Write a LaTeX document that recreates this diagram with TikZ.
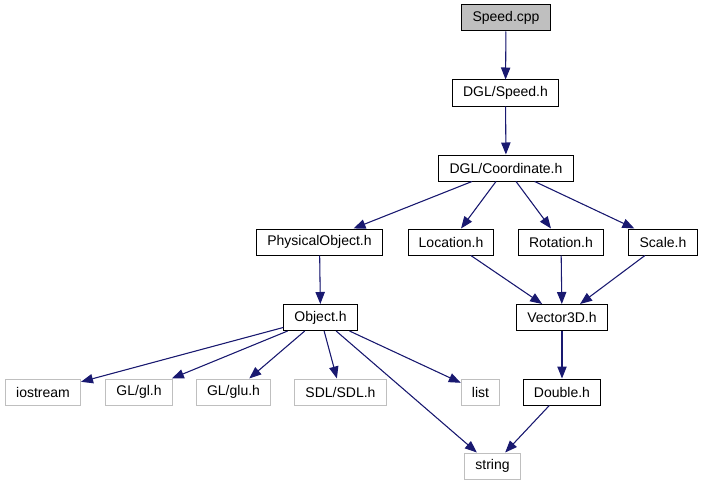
\documentclass[tikz,border=0pt]{standalone}
\usepackage{fontspec}
\setmainfont{Liberation Sans}
\usetikzlibrary{shapes,arrows.meta,positioning}
\definecolor{edgeblue}{RGB}{25,25,112}
\definecolor{sysgray}{RGB}{191,191,191}

\begin{document}
\begin{tikzpicture}[
    x=0.75pt, y=-0.75pt,
    font=\fontsize{10.5}{12}\selectfont,
    file/.style={rectangle, draw=black, line width=0.75pt, minimum height=19.5pt, inner xsep=8pt, inner ysep=0pt},
    sysfile/.style={file, draw=sysgray},
    dep/.style={-{Triangle[length=9pt,width=7pt]}, draw=edgeblue, fill=edgeblue, line width=0.8pt}
]
\useasboundingbox (0,0) rectangle (703,485);

\node[file, fill=sysgray] (speedcpp) at (506,18) {Speed.cpp};
\node[file] (speedh) at (505.5,93) {DGL/Speed.h};
\node[file] (coord) at (506,168) {DGL/Coordinate.h};
\node[file] (phys) at (319.5,242) {PhysicalObject.h};
\node[file] (loc) at (451,242) {Location.h};
\node[file] (rot) at (561,242) {Rotation.h};
\node[file] (scale) at (663,242) {Scale.h};
\node[file] (object) at (320.5,317.5) {Object.h};
\node[file] (vec) at (562,317.5) {Vector3D.h};
\node[sysfile] (iostream) at (43,392) {iostream};
\node[sysfile] (gl) at (139,392) {GL/gl.h};
\node[sysfile] (glu) at (233.5,392) {GL/glu.h};
\node[sysfile] (sdl) at (340.5,392) {SDL/SDL.h};
\node[sysfile] (list) at (480.5,392) {list};
\node[file] (double) at (562,392) {Double.h};
\node[sysfile] (string) at (492.5,466) {string};

\draw[dep] (speedcpp) -- (speedh);
\draw[dep] (speedh) -- (coord);
\draw[dep] (coord) -- (phys);
\draw[dep] (coord) -- (loc);
\draw[dep] (coord) -- (rot);
\draw[dep] (coord) -- (scale);
\draw[dep] (phys) -- (object);
\draw[dep] (loc) -- (vec);
\draw[dep] (rot) -- (vec);
\draw[dep] (scale) -- (vec);
\draw[dep] (object) -- (iostream);
\draw[dep] (object) -- (gl);
\draw[dep] (object) -- (glu);
\draw[dep] (object) -- (sdl);
\draw[dep] (object) -- (list);
\draw[dep] (object) -- (string);
\draw[dep] (vec) -- (double);
\draw[dep] (double) -- (string);

\end{tikzpicture}
\end{document}
